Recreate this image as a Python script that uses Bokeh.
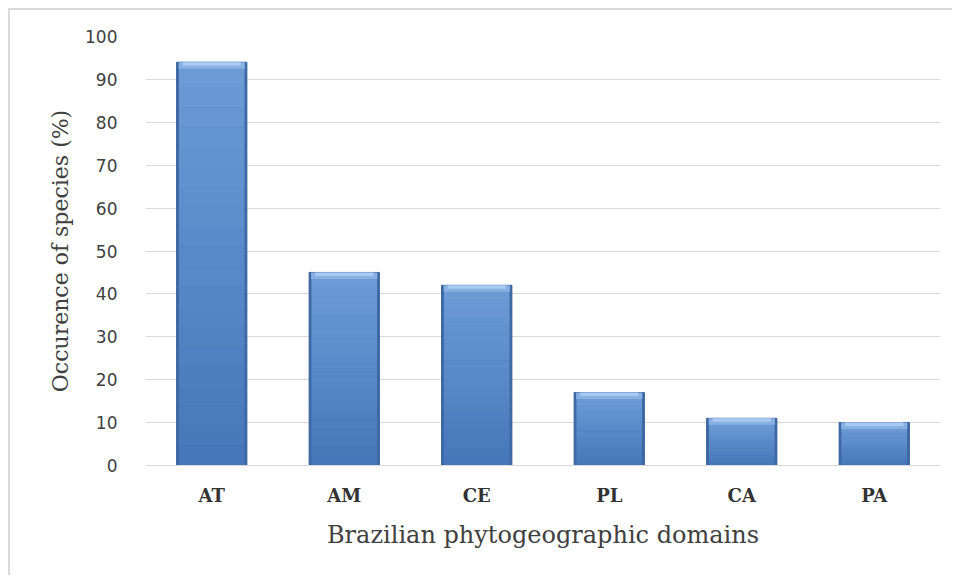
import numpy as np
from bokeh.plotting import figure
from bokeh.models import ColumnDataSource, Range1d, FactorRange, SingleIntervalTicker
from bokeh.embed import file_html
from bokeh.resources import INLINE

# ---- data ----
domains = ["AT", "AM", "CE", "PL", "CA", "PA"]
occurrence = [94, 45, 42, 17, 11, 10]
y_ticks = [0, 10, 20, 30, 40, 50, 60, 70, 80, 90, 100]

vals = np.array(occurrence, dtype=float)

# vertical gradient: each bar split into stacked slices (derived from the data)
n_seg = 20
c_bot = np.array([0x45, 0x76, 0xb9])
c_top = np.array([0x6c, 0x9b, 0xd6])
seg_x, seg_b, seg_t, seg_c = [], [], [], []
for d, v in zip(domains, vals):
    body_top = v - 1.3
    for k in range(n_seg):
        f0, f1 = k / n_seg, (k + 1) / n_seg
        c = c_bot + (c_top - c_bot) * (f0 + f1) / 2
        seg_x.append(d)
        seg_b.append(body_top * f0)
        seg_t.append(body_top * f1 + 0.08)
        seg_c.append("#%02x%02x%02x" % tuple(int(round(t)) for t in c))
seg_src = ColumnDataSource(dict(x=seg_x, bottom=seg_b, top=seg_t, color=seg_c))

src = ColumnDataSource(dict(
    x=domains,
    top=vals,
    cap_bottom=vals - 1.5,
    cap_mid=vals - 0.8,
))

p = figure(
    width=944, height=567,
    x_range=FactorRange(*domains),
    y_range=Range1d(0, 100),
    output_backend="svg", toolbar_location=None,
    min_border_left=135, min_border_right=14,
    min_border_top=26, min_border_bottom=112,
    background_fill_color="white", border_fill_color="white",
)
p.styles = {
    "border-left": "2px solid #d9d9d9",
    "border-top": "2px solid #d9d9d9",
    "margin-left": "8px",
    "margin-top": "8px",
}
p.outline_line_color = None

# bars: dark rim, vertical-gradient body, light bevelled top
p.vbar(x="x", top="top", bottom=0, width=0.53, source=src,
       fill_color="#3d69a6", line_color="#35609a", line_width=1)
p.vbar(x="x", top="top", bottom="bottom", width=0.495, source=seg_src,
       fill_color="color", line_color=None)
p.vbar(x="x", top="top", bottom="cap_bottom", width=0.50, source=src,
       fill_color="#88b0e2", line_color=None)
p.vbar(x="x", top="top", bottom="cap_mid", width=0.44, source=src,
       fill_color="#a9c9f0", line_color=None)

# grid
p.xgrid.grid_line_color = None
p.ygrid.grid_line_color = "#d9d9d9"
p.ygrid.grid_line_width = 1
p.ygrid.ticker = SingleIntervalTicker(interval=10)

# y axis
p.yaxis.ticker = y_ticks
p.yaxis.axis_line_color = None
p.yaxis.major_tick_line_color = None
p.yaxis.minor_tick_line_color = None
p.yaxis.major_label_text_font = "DejaVu Sans"
p.yaxis.major_label_text_font_size = "17px"
p.yaxis.major_label_text_color = "#404040"
p.yaxis.major_label_standoff = 22
p.yaxis.axis_label = "Occurence of species (%)"
p.yaxis.axis_label_text_font = "DejaVu Serif"
p.yaxis.axis_label_text_font_style = "normal"
p.yaxis.axis_label_text_font_size = "22px"
p.yaxis.axis_label_text_color = "#404040"
p.yaxis.axis_label_standoff = 9

# x axis
p.xaxis.axis_line_color = "#d9d9d9"
p.xaxis.major_tick_line_color = None
p.xaxis.minor_tick_line_color = None
p.xaxis.major_label_text_font = "DejaVu Serif"
p.xaxis.major_label_text_font_size = "18px"
p.xaxis.major_label_text_font_style = "bold"
p.xaxis.major_label_text_color = "#333333"
p.xaxis.major_label_standoff = 13
p.xaxis.axis_label = "Brazilian phytogeographic domains"
p.xaxis.axis_label_text_font = "DejaVu Serif"
p.xaxis.axis_label_text_font_style = "normal"
p.xaxis.axis_label_text_font_size = "24px"
p.xaxis.axis_label_text_color = "#404040"
p.xaxis.axis_label_standoff = 12

open("out.html", "w").write(file_html(p, INLINE))
